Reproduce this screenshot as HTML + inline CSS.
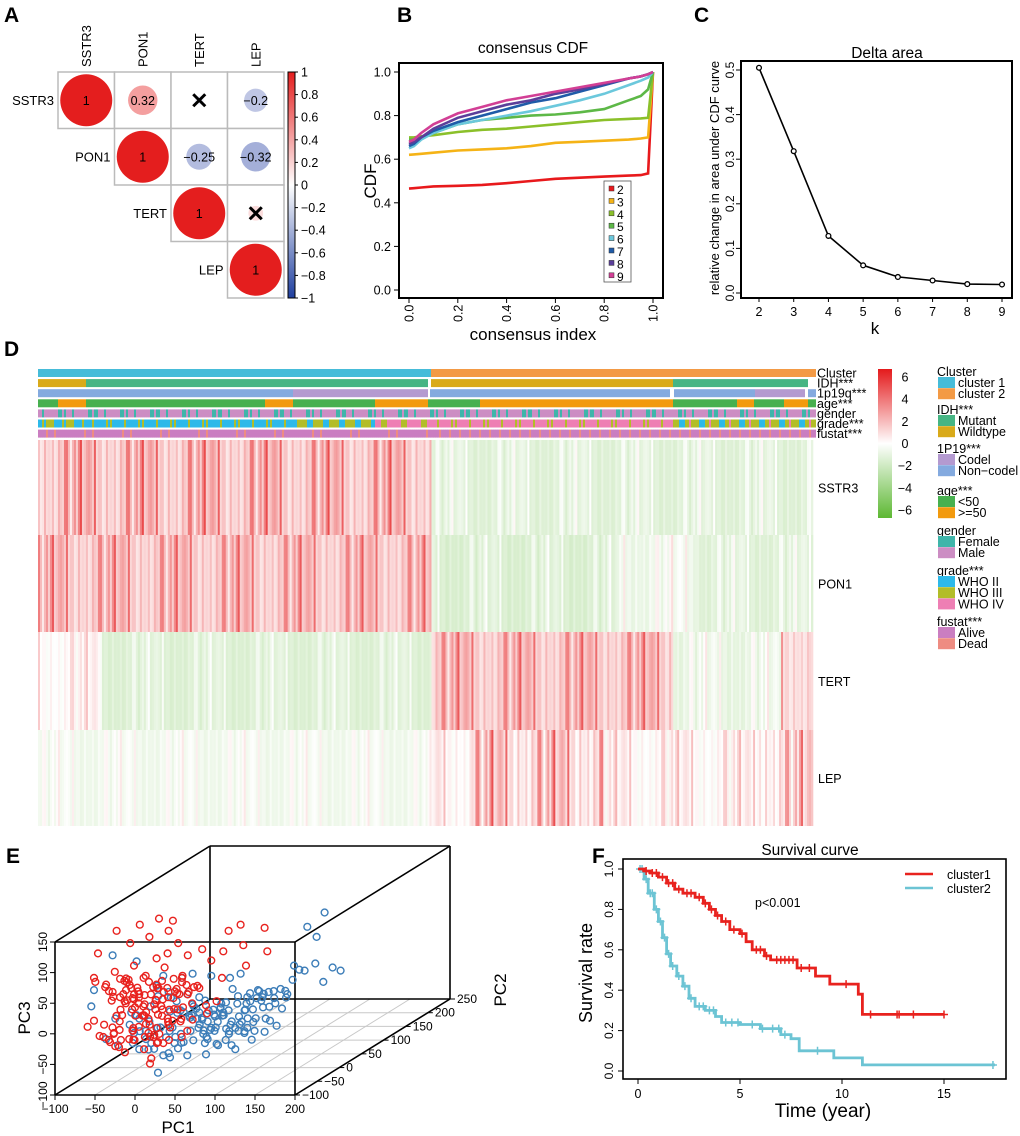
<!DOCTYPE html>
<html><head><meta charset="utf-8"><title>Figure</title>
<style>
html,body{margin:0;padding:0;background:#fff;}
svg{display:block;font-family:"Liberation Sans",Arial,sans-serif;}
</style></head>
<body>
<svg id="fig" width="1020" height="1136" viewBox="0 0 1020 1136" xmlns="http://www.w3.org/2000/svg"></svg>
<script>
// ---------- DATA ----------
// Panel A
const corrGenes = ["SSTR3","PON1","TERT","LEP"];
const corrVals = [[1,0.32,-0.03,-0.2],[0.32,1,-0.25,-0.32],[-0.03,-0.25,1,0.08],[-0.2,-0.32,0.08,1]];
const corrSig = [[1,1,0,1],[1,1,1,1],[0,1,1,0],[1,1,0,1]];
const corrTicks = [1,0.8,0.6,0.4,0.2,0,-0.2,-0.4,-0.6,-0.8,-1];
// Panel B
const cdfX = [0,0.02,0.05,0.1,0.2,0.3,0.4,0.5,0.6,0.7,0.8,0.9,0.95,0.98,1.0];
const cdfK = ["2","3","4","5","6","7","8","9"];
const cdfK2 = [.465,.467,.47,.475,.478,.482,.49,.50,.51,.515,.52,.525,.527,.535,1.0];
const cdfK3 = [.62,.622,.625,.63,.64,.645,.65,.66,.675,.68,.685,.69,.695,.70,1.0];
const cdfK4 = [.70,.70,.705,.71,.725,.735,.74,.75,.76,.77,.78,.785,.787,.79,1.0];
const cdfK5 = [.69,.69,.70,.72,.76,.78,.79,.80,.805,.815,.83,.87,.89,.92,1.0];
const cdfK6 = [.65,.66,.69,.72,.76,.78,.80,.82,.845,.87,.90,.94,.96,.975,1.0];
const cdfK7 = [.66,.67,.70,.73,.77,.80,.83,.86,.88,.91,.94,.97,.98,.99,1.0];
const cdfK8 = [.67,.68,.70,.74,.79,.82,.85,.87,.90,.92,.945,.97,.98,.99,1.0];
const cdfK9 = [.68,.69,.72,.76,.81,.84,.87,.89,.91,.93,.95,.97,.98,.99,1.0];
const cdfTicks = [0,0.2,0.4,0.6,0.8,1.0];
// Panel C
const deltaK = [2,3,4,5,6,7,8,9];
const deltaVals = [0.505,0.318,0.128,0.062,0.036,0.028,0.020,0.019];
const deltaTicks = [0,0.1,0.2,0.3,0.4,0.5];
// Panel D heatmap: segments [fromFrac,toFrac,mean,amp]
const hmGenes = ["SSTR3","PON1","TERT","LEP"];
const hmSSTR3 = [[0,0.507,1.3,0.9],[0.507,1,-1.1,0.35]];
const hmPON1 = [[0,0.507,1.3,0.8],[0.507,0.75,-1.3,0.35],[0.75,0.85,-0.6,0.4],[0.85,1,-1.1,0.35]];
const hmTERT = [[0,0.08,0.1,0.4],[0.08,0.507,-1.2,0.3],[0.507,0.82,1.3,0.8],[0.82,0.96,-0.8,0.4],[0.96,1,1.0,0.6]];
const hmLEP = [[0,0.507,-0.5,0.3],[0.507,0.56,0.2,0.5],[0.56,0.73,0.8,1.0],[0.73,0.93,0.1,0.5],[0.93,1,0.6,0.9]];
const hmJitter = [0.3,-0.5,1.8,0.1,-0.2,2.6,0.4,-0.8,0.9,0,3.2,-0.4,0.6,1.2,-0.6,0.2,2.1,-0.3,0.5,-0.9,1.5,0.8,-0.1,3.8,0.3,-0.7,0.7,1.0,-0.4,2.4,0];
const hmScaleTicks = [6,4,2,0,-2,-4,-6];
// annotation segments [fromX,toX,patternOfCodes]
const annCluster = [[38,431,"1"],[431,816,"2"]];
const annIDH = [[38,86,"W"],[86,428,"M"],[431,673,"W"],[673,808,"M"]];
const ann1p19q = [[38,293,"N"],[293,428,"C"],[430,670,"N"],[674,755,"N"],[755,805,"C"],[808,816,"N"]];
const annAge = [[38,58,"Y"],[58,86,"O"],[86,265,"Y"],[265,293,"O"],[293,375,"Y"],[375,428,"O"],[428,480,"Y"],[480,673,"O"],[673,737,"Y"],[737,754,"O"],[754,784,"Y"],[784,808,"O"],[808,816,"Y"]];
const annGender = [[38,816,"MMFMMMFMFMMMMFMMFMMMFMFMMFMMMMF"]];
const annGrade = [[38,86,"2332233232"],[86,293,"2222322223222232"],[293,375,"23323233"],[375,431,"4434434443"],[431,673,"4444344443444434"],[673,816,"3323423332"]];
const annFustat = [[38,431,"AAAAADAAAAAADAAAAAA"],[431,816,"ADDADAADDAADDAD"]];
// Panel E PCA points [pc1,pc2,pc3]
const pcaC1 = [[-105,0,40],[-100,30,10],[-98,-30,-20],[-95,0,-50],[-92,30,-80],[-90,-30,60],[-88,0,25],[-85,30,-5],[-83,-30,-35],[-80,0,-65],[-78,30,90],[-76,-30,45],[-74,0,15],[-72,30,-15],[-70,-30,-45],[-68,0,-75],[-66,30,120],[-64,-30,70],[-62,0,35],[-60,30,5],[-58,-30,-25],[-56,0,-55],[-54,30,100],[-52,-30,55],[-50,0,20],[-48,30,-10],[-46,-30,-40],[-44,0,-70],[-42,30,130],[-40,-30,80],[-38,0,40],[-36,30,10],[-34,-30,-20],[-32,0,-50],[-30,30,110],[-28,-30,60],[-26,0,30],[-24,30,0],[-22,-30,-30],[-20,0,-60],[-18,30,90],[-16,-30,45],[-14,0,15],[-12,30,-15],[-10,-30,-45],[-8,0,140],[-6,30,70],[-4,-30,25],[-2,0,-5],[0,30,-35],[2,-30,100],[4,0,50],[6,30,20],[8,-30,-10],[10,0,-40],[12,30,80],[14,-30,35],[16,0,5],[18,30,-25],[20,-30,60],[25,0,30],[30,30,-5],[35,-30,45],[40,0,75],[45,30,110],[50,-30,15],[55,0,90],[60,30,120],[70,-30,60],[80,0,100],[90,30,115],[100,-30,80],[110,0,90],[-95,30,110],[-85,-30,100],[-70,0,20],[-60,30,-10],[-50,-30,40],[-45,0,0],[-35,30,50],[-25,-30,-15],[-15,0,30],[-5,30,10],[-65,-30,-30],[-55,0,-15],[-75,30,0],[-40,-30,25],[-30,0,-5],[-20,30,15],[-10,-30,0],[0,0,20],[-48,30,-60],[-20,-30,-80],[-60,0,30],[-80,30,30],[-90,-30,-10],[-35,0,-85],[-65,0,10],[-45,30,65],[-25,0,-45],[-5,-30,55],
[-94,0,-30],[-90,10,5],[-86,-10,40],[-82,0,-45],[-79,10,-10],[-77,-10,20],[-73,0,-55],[-71,10,35],[-69,-10,-20],[-67,0,5],[-63,10,-40],[-61,-10,50],[-59,0,-5],[-57,10,20],[-53,-10,-35],[-51,0,5],[-49,10,-20],[-47,-10,35],[-43,0,-50],[-41,10,15],[-39,-10,-10],[-37,0,-30],[-33,10,25],[-31,-10,-45],[-29,0,10],[-27,10,-20],[-23,-10,40],[-21,0,-5],[-19,10,-35],[-17,-10,5],[-13,0,-55],[-11,10,20],[-9,-10,-15],[-7,0,45],[-3,10,-25],[-1,-10,0],[3,0,-50],[5,10,15],[7,-10,-20],[9,0,35],[-84,10,-20],[-66,-10,-10],[-58,0,-40],[-44,10,-25],[-36,-10,-5],[-28,0,-60],[-18,10,-10],[-6,-10,-30],[-74,0,45],[-62,10,15],[-52,-10,-50],[-42,0,50],[-34,10,-40],[-24,-10,15],[-14,0,-25],[-2,10,35],[-88,0,-55],[-78,-10,-30],[-56,10,10],[-46,0,-15]];
const pcaC2 = [[-110,0,0],[-100,30,70],[-90,-30,40],[-80,0,-20],[-70,30,60],[-60,-30,-50],[-50,0,-70],[-45,30,20],[-40,-30,-30],[-35,0,-60],[-30,30,10],[-25,-30,-40],[-20,0,-80],[-15,30,-20],[-10,-30,30],[-5,0,-50],[0,30,-10],[5,-30,-70],[10,0,20],[12,30,-35],[15,-30,-55],[18,0,0],[20,30,-20],[22,-30,-45],[25,0,15],[28,30,-30],[30,-30,-5],[32,0,-60],[35,30,-15],[38,-30,10],[40,0,-35],[42,30,-50],[45,-30,-5],[48,0,-25],[50,30,15],[52,-30,-40],[55,0,-10],[58,30,-30],[60,-30,0],[62,0,-45],[65,30,-20],[68,-30,10],[70,0,-35],[72,30,-5],[75,-30,20],[78,0,-25],[80,30,0],[82,-30,-50],[85,0,15],[88,30,-15],[90,-30,30],[92,0,-5],[95,30,10],[98,-30,-30],[100,0,25],[102,30,0],[105,-30,35],[108,0,-20],[110,30,15],[115,-30,40],[120,0,5],[125,30,30],[130,-30,-10],[135,0,20],[140,30,45],[145,-30,10],[150,0,60],[155,30,100],[160,0,130],[165,30,140],[170,0,70],[175,30,50],[180,0,40],[185,30,45],[160,-30,80],[-20,0,50],[0,30,40],[20,-30,60],[40,0,50],[60,30,40],[80,-30,60],[-60,0,-10],[-30,30,-90],[-10,-30,-95],[10,0,-80],[30,30,-75],[50,-30,-65],[70,0,-70],[90,30,-55],[-75,-30,-40],[-50,0,-20],[-20,30,-5],[5,-30,5],[25,0,-10],[45,30,-20],[65,-30,-50],[85,0,-35],[105,30,-45],[30,0,-45],[55,-30,-25],
[-62,0,-30],[-55,10,-45],[-48,-10,-10],[-42,0,-40],[-38,10,-55],[-32,-10,-20],[-27,0,-35],[-22,10,-55],[-18,-10,-30],[-12,0,-40],[-8,10,-15],[-3,-10,-30],[2,0,-45],[7,10,-20],[11,-10,-5],[14,0,-40],[17,10,-25],[21,-10,-10],[24,0,-35],[27,10,5],[31,-10,-25],[34,0,-50],[37,10,-10],[41,-10,-20],[44,0,-40],[47,10,0],[51,-10,-30],[54,0,-15],[57,10,-45],[61,-10,-10],[64,0,-30],[67,10,0],[71,-10,-20],[74,0,-40],[77,10,-10],[81,-10,-25],[84,0,5],[87,10,-30],[91,-10,-15],[94,0,-40],[97,10,5],[101,-10,-15],[104,0,15],[107,10,-5],[111,-10,25],[-58,0,-60],[-44,10,-75],[-26,-10,-65],[-6,0,-60],[12,10,-60],[36,-10,-35],[58,0,-55],[76,10,-45],[96,-10,-50],[118,0,25],[128,10,10],[138,-10,30],[-36,0,0],[-16,10,10],[8,-10,-55]];
const pc1Ticks = [-100,-50,0,50,100,150,200];
const pc2Ticks = [-100,-50,0,50,100,150,200,250];
const pc3Ticks = [-100,-50,0,50,100,150];
// Panel F survival [time, survival]
const survC1 = [[0,1],[0.3,0.99],[0.6,0.98],[1,0.96],[1.4,0.93],[1.8,0.90],[2.2,0.88],[2.8,0.86],[3.2,0.83],[3.5,0.80],[3.8,0.77],[4.1,0.74],[4.5,0.70],[5,0.68],[5.3,0.64],[5.6,0.60],[6.2,0.57],[6.5,0.55],[7.8,0.51],[8.7,0.47],[9.4,0.43],[10.8,0.38],[11,0.28],[15,0.28]];
const survC2 = [[0,1],[0.3,0.95],[0.5,0.88],[0.8,0.80],[1,0.74],[1.2,0.66],[1.4,0.58],[1.6,0.52],[1.9,0.47],[2.2,0.42],[2.5,0.36],[2.8,0.32],[3.3,0.30],[3.8,0.27],[4.1,0.24],[5,0.23],[6,0.21],[7,0.18],[7.5,0.16],[7.9,0.10],[9.6,0.065],[11,0.03],[17.5,0.03]];
const censC1 = [0.4,0.7,0.9,1.2,1.5,1.7,2.0,2.4,2.6,3.0,3.3,3.6,3.9,4.3,4.7,5.1,5.8,6.0,6.3,6.8,7.0,7.2,7.4,7.6,8.0,8.4,10.2,11.4,12.7,12.8,13.5,15];
const censC2 = [0.1,0.2,0.4,0.6,0.7,0.9,1.1,1.3,1.5,1.7,2.0,2.3,2.6,3.0,3.2,3.5,3.7,4.3,4.6,4.9,5.6,6.1,6.6,6.9,7.2,8.8,17.4];
const survXTicks = [0,5,10,15];
const survYTicks = [0,0.2,0.4,0.6,0.8,1.0];

// ---------- HELPERS ----------
const NS = "http://www.w3.org/2000/svg";
const svg = document.getElementById('fig');
function add(p, tag, attrs, name) {
  const e = document.createElementNS(NS, tag);
  for (const k in attrs) e.setAttribute(k, attrs[k]);
  
  
  p.appendChild(e);
  return e;
}
function txt(p, x, y, s, size, name, extra) {
  const a = {x:x, y:y, 'font-size':size, fill:'#000'};
  if (extra) for (const k in extra) a[k] = extra[k];
  const e = add(p, 'text', a, name);
  e.textContent = s;
  return e;
}
function mix(c1, c2, t) {
  return 'rgb(' + [0,1,2].map(i => Math.round(c1[i] + (c2[i]-c1[i])*t)).join(',') + ')';
}
const W = [255,255,255];

// ---------- PANEL LETTERS ----------
[["A",4,22],["B",397,22],["C",694,22],["D",4,356],["E",6,863],["F",592,863]].forEach(l => {
  txt(svg, l[1], l[2], l[0], 21, 'panel-label-' + l[0].toLowerCase(), {'font-weight':'bold'});
});

// ---------- PANEL A ----------
(function(){
  const g = add(svg, 'g', {}, 'correlation-plot');
  const x0 = 58, y0 = 72, s = 56.5;
  const red = [228,30,30], blue = [40,66,165];
  function cc(v){ return v >= 0 ? mix(W, red, Math.pow(v, 0.75)) : mix(W, blue, Math.pow(-v, 0.75)); }
  for (let i = 0; i < 4; i++) {
    for (let j = i; j < 4; j++) {
      const cx = x0 + j*s, cy = y0 + i*s;
      add(g, 'rect', {x:cx, y:cy, width:s, height:s, fill:'#fff', stroke:'#bbb', 'stroke-width':1.5}, 'corr-cell');
      const v = corrVals[i][j];
      const r = Math.sqrt(Math.abs(v)) * 26;
      add(g, 'circle', {cx:cx+s/2, cy:cy+s/2, r:r, fill:cc(v)}, 'corr-circle-' + corrGenes[i].toLowerCase() + '-' + corrGenes[j].toLowerCase());
      if (corrSig[i][j]) {
        const lab = v === 1 ? '1' : String(v).replace('-', '\u2212');
        txt(g, cx+s/2, cy+s/2+4.5, lab, 12.5, 'corr-value', {'text-anchor':'middle'});
      } else {
        const m = 6;
        add(g, 'path', {d:`M${cx+s/2-m},${cy+s/2-m}L${cx+s/2+m},${cy+s/2+m}M${cx+s/2+m},${cy+s/2-m}L${cx+s/2-m},${cy+s/2+m}`, stroke:'#000', 'stroke-width':3}, 'insignificant-mark');
      }
    }
    txt(g, x0 + i*s - 4, y0 + i*s + s/2 + 4.5, corrGenes[i], 13, 'row-label-' + corrGenes[i].toLowerCase(), {'text-anchor':'end'});
    txt(g, 0, 0, corrGenes[i], 13, 'col-label-' + corrGenes[i].toLowerCase(), {transform:`translate(${x0+i*s+s/2+4.5},67) rotate(-90)`});
  }
  const defs = add(svg, 'defs', {}, 'defs');
  const lg = add(defs, 'linearGradient', {id:'corrGrad', x1:0, y1:0, x2:0, y2:1}, 'corr-gradient');
  add(lg, 'stop', {offset:'0', 'stop-color':'#E41E1E'}, 'stop');
  add(lg, 'stop', {offset:'0.5', 'stop-color':'#ffffff'}, 'stop');
  add(lg, 'stop', {offset:'1', 'stop-color':'#1F3F9F'}, 'stop');
  add(g, 'rect', {x:288, y:72, width:7, height:226, fill:'url(#corrGrad)', stroke:'#000', 'stroke-width':1}, 'corr-colorbar');
  corrTicks.forEach(t => {
    const y = 72 + (1 - t)/2 * 226;
    add(g, 'line', {x1:295, x2:298, y1:y, y2:y, stroke:'#000'}, 'colorbar-tick');
    txt(g, 301, y+4.5, String(t).replace('-', '\u2212'), 12.5, 'colorbar-tick-label');
  });
})();

// ---------- PANEL B ----------
(function(){
  const g = add(svg, 'g', {}, 'consensus-cdf-plot');
  const X = v => 409 + v*244, Y = v => 290 - v*218;
  txt(g, 533, 53, 'consensus CDF', 15.5, 'chart-title', {'text-anchor':'middle'});
  const series = [cdfK2,cdfK3,cdfK4,cdfK5,cdfK6,cdfK7,cdfK8,cdfK9];
  const cols = ['#E8191C','#F5B316','#8BC02A','#5DB847','#6BC8DC','#1F5BA8','#5B3F9A','#D23F95'];
  series.forEach((s, k) => {
    const d = s.map((v, i) => (i ? 'L' : 'M') + X(cdfX[i]).toFixed(1) + ',' + Y(v).toFixed(1)).join('');
    add(g, 'path', {d:d, fill:'none', stroke:cols[k], 'stroke-width':2.6}, 'cdf-line-k' + cdfK[k]);
  });
  add(g, 'rect', {x:399, y:63, width:264, height:235, fill:'none', stroke:'#000', 'stroke-width':2}, 'plot-frame');
  cdfTicks.forEach(t => {
    add(g, 'line', {x1:394, x2:399, y1:Y(t), y2:Y(t), stroke:'#000'}, 'y-tick');
    txt(g, 391, Y(t)+4.5, t.toFixed(1), 12.5, 'y-tick-label', {'text-anchor':'end'});
    add(g, 'line', {x1:X(t), x2:X(t), y1:298, y2:303, stroke:'#000'}, 'x-tick');
    txt(g, 0, 0, t.toFixed(1), 12.5, 'x-tick-label', {transform:`translate(${X(t)+4.5},322) rotate(-90)`});
  });
  txt(g, 0, 0, 'CDF', 17, 'y-axis-title', {transform:'translate(376,181) rotate(-90)', 'text-anchor':'middle'});
  txt(g, 533, 340, 'consensus index', 17, 'x-axis-title', {'text-anchor':'middle'});
  add(g, 'rect', {x:604, y:181, width:27, height:101, fill:'#fff', stroke:'#555', 'stroke-width':0.8}, 'legend-box');
  cdfK.forEach((k, i) => {
    const y = 190 + i*12.4;
    add(g, 'rect', {x:609, y:y-4, width:5, height:5, fill:cols[i], stroke:'#333', 'stroke-width':0.5}, 'legend-swatch-k' + k);
    txt(g, 617, y+4, k, 12, 'legend-label-k' + k);
  });
})();

// ---------- PANEL C ----------
(function(){
  const g = add(svg, 'g', {}, 'delta-area-plot');
  const X = k => 759 + (k-2)*(243/7), Y = v => 293 - v*446;
  txt(g, 887, 58, 'Delta area', 15.5, 'chart-title', {'text-anchor':'middle'});
  add(g, 'path', {d:deltaVals.map((v,i)=>(i?'L':'M')+X(deltaK[i]).toFixed(1)+','+Y(v).toFixed(1)).join(''), fill:'none', stroke:'#000', 'stroke-width':1.6}, 'delta-line');
  deltaVals.forEach((v, i) => {
    add(g, 'circle', {cx:X(deltaK[i]), cy:Y(v), r:2.4, fill:'#fff', stroke:'#000', 'stroke-width':1.3}, 'delta-point-k' + deltaK[i]);
  });
  add(g, 'rect', {x:741, y:61, width:271, height:237, fill:'none', stroke:'#000', 'stroke-width':2}, 'plot-frame');
  deltaTicks.forEach(t => {
    add(g, 'line', {x1:736, x2:741, y1:Y(t), y2:Y(t), stroke:'#000'}, 'y-tick');
    txt(g, 0, 0, t.toFixed(1), 12, 'y-tick-label', {transform:`translate(${737-3},${Y(t)}) rotate(-90)`, 'text-anchor':'middle'});
  });
  deltaK.forEach(k => {
    add(g, 'line', {x1:X(k), x2:X(k), y1:298, y2:302, stroke:'#000'}, 'x-tick');
    txt(g, X(k), 316, String(k), 12.5, 'x-tick-label', {'text-anchor':'middle'});
  });
  txt(g, 0, 0, 'relative change in area under CDF curve', 13, 'y-axis-title', {transform:'translate(719,178) rotate(-90)', 'text-anchor':'middle'});
  txt(g, 875, 334, 'k', 17, 'x-axis-title', {'text-anchor':'middle'});
})();

// ---------- PANEL D ----------
(function(){
  const g = add(svg, 'g', {}, 'heatmap');
  const x0 = 38, x1 = 813, nc = 388, cw = (x1 - x0)/nc;
  const redC = [228,26,28], greenC = [93,184,51];
  function hc(v){ const t = Math.min(Math.abs(v)/6, 1); return v >= 0 ? mix(W, redC, t) : mix(W, greenC, t); }
  const rows = [hmSSTR3, hmPON1, hmTERT, hmLEP];
  const rowY = [440, 535, 632, 730, 826];
  rows.forEach((segs, r) => {
    for (let c = 0; c < nc; c++) {
      const f = (c + 0.5)/nc;
      const s = segs.find(q => f >= q[0] && f < q[1]) || segs[segs.length-1];
      const v = s[2] + s[3]*hmJitter[(c*7 + r*5) % hmJitter.length];
      add(g, 'rect', {x:(x0 + c*cw).toFixed(2), y:rowY[r], width:(cw+0.3).toFixed(2), height:rowY[r+1]-rowY[r], fill:hc(v)}, 'heatmap-cell');
    }
    txt(g, 818, (rowY[r]+rowY[r+1])/2 + 5, hmGenes[r], 12.5, 'row-label-' + hmGenes[r].toLowerCase());
  });
  const annRows = [annCluster, annIDH, ann1p19q, annAge, annGender, annGrade, annFustat];
  const annNames = ['Cluster','IDH***','1p19q***','age***','gender','grade***','fustat***'];
  const annCols = [
    {'1':'#46BCD9','2':'#F39A45'},
    {'M':'#46B584','W':'#D9AA1A'},
    {'C':'#B49AD0','N':'#84AADF'},
    {'Y':'#47B04F','O':'#F29A0E'},
    {'F':'#3FB5AA','M':'#CC8DC3'},
    {'2':'#2DB9E9','3':'#B2BD28','4':'#EE7FB4'},
    {'A':'#CA7EC1','D':'#EE8C82'}
  ];
  annRows.forEach((segs, r) => {
    const y = 369 + r*10.1;
    segs.forEach(s => {
      if (s[2].length === 1) {
        add(g, 'rect', {x:s[0], y:y, width:s[1]-s[0], height:8, fill:annCols[r][s[2]]}, 'annotation-' + annNames[r].replace(/\*/g,'').toLowerCase());
      } else {
        for (let x = s[0], c = 0; x < s[1]; x += 2, c++) {
          const code = s[2][(c*3) % s[2].length];
          add(g, 'rect', {x:x, y:y, width:Math.min(2.3, s[1]-x), height:8, fill:annCols[r][code]}, 'annotation-' + annNames[r].replace(/\*/g,'').toLowerCase());
        }
      }
    });
    txt(g, 817, y + 8.5, annNames[r], 12.5, 'annotation-label');
  });
  const defs = add(svg, 'defs', {}, 'defs');
  const lg = add(defs, 'linearGradient', {id:'hmGrad', x1:0, y1:0, x2:0, y2:1}, 'heatmap-gradient');
  add(lg, 'stop', {offset:'0', 'stop-color':'#E41A1C'}, 'stop');
  add(lg, 'stop', {offset:'0.5', 'stop-color':'#ffffff'}, 'stop');
  add(lg, 'stop', {offset:'1', 'stop-color':'#5DB833'}, 'stop');
  add(g, 'rect', {x:878, y:369, width:14, height:149, fill:'url(#hmGrad)'}, 'heatmap-colorbar');
  hmScaleTicks.forEach(t => {
    const y = 443 - t*11.1;
    txt(g, 905, y+5, String(t).replace('-', '\u2212'), 12.5, 'colorbar-tick-label', {'text-anchor':'middle'});
  });
  const leg = [
    ['Cluster',371,[['cluster 1','#46BCD9'],['cluster 2','#F39A45']]],
    ['IDH***',409,[['Mutant','#46B584'],['Wildtype','#D9AA1A']]],
    ['1P19***',448,[['Codel','#B49AD0'],['Non\u2212codel','#84AADF']]],
    ['age***',490,[['<50','#47B04F'],['>=50','#F29A0E']]],
    ['gender',530,[['Female','#3FB5AA'],['Male','#CC8DC3']]],
    ['grade***',570,[['WHO  II','#2DB9E9'],['WHO III','#B2BD28'],['WHO IV','#EE7FB4']]],
    ['fustat***',621,[['Alive','#CA7EC1'],['Dead','#EE8C82']]]
  ];
  leg.forEach(grp => {
    txt(g, 937, grp[1]+5, grp[0], 12.5, 'legend-title');
    grp[2].forEach((it, i) => {
      const y = grp[1] + 6 + i*11.2;
      add(g, 'rect', {x:938, y:y, width:17, height:11, fill:it[1]}, 'legend-swatch');
      txt(g, 958, y+10, it[0], 12.5, 'legend-label');
    });
  });
})();

// ---------- PANEL E ----------
(function(){
  const g = add(svg, 'g', {}, 'pca-3d-plot');
  const DX = 155, DY = -96;
  const bx = v => 55 + (v+100)*0.8, by = v => 1095 - (v+100)*0.612, dep = v => (v+100)/350;
  const P = (a, b, c) => [bx(a) + dep(b)*DX, by(c) + dep(b)*DY];
  pc2Ticks.forEach(t => {
    const d = dep(t);
    if (d > 0 && d < 1) add(g, 'line', {x1:55+d*DX, y1:1095+d*DY, x2:295+d*DX, y2:1095+d*DY, stroke:'#c8c8c8'}, 'floor-grid-line');
  });
  pc1Ticks.forEach(t => {
    if (t > -100 && t < 200) add(g, 'line', {x1:bx(t), y1:1095, x2:bx(t)+DX, y2:1095+DY, stroke:'#c8c8c8'}, 'floor-grid-line');
  });
  const edges = [[55,942,295,942],[55,1095,295,1095],[55,942,55,1095],[295,942,295,1095],
    [210,846,450,846],[210,999,450,999],[210,846,210,999],[450,846,450,999],
    [55,942,210,846],[295,942,450,846],[295,1095,450,999],[55,1095,210,999]];
  edges.forEach(e => add(g, 'line', {x1:e[0], y1:e[1], x2:e[2], y2:e[3], stroke:'#000', 'stroke-width':1.6}, 'box-edge'));
  pcaC2.forEach(p => { const q = P(p[0],p[1],p[2]); add(g, 'circle', {cx:q[0].toFixed(1), cy:q[1].toFixed(1), r:3.4, fill:'none', stroke:'#3C7DB8', 'stroke-width':1.4}, 'point-cluster2'); });
  pcaC1.forEach(p => { const q = P(p[0],p[1],p[2]); add(g, 'circle', {cx:q[0].toFixed(1), cy:q[1].toFixed(1), r:3.4, fill:'none', stroke:'#E8221E', 'stroke-width':1.4}, 'point-cluster1'); });
  pc1Ticks.forEach(t => {
    add(g, 'line', {x1:bx(t), x2:bx(t), y1:1095, y2:1100, stroke:'#000'}, 'x-tick');
    txt(g, bx(t), 1113, String(t).replace('-', '\u2212'), 12, 'pc1-tick-label', {'text-anchor':'middle'});
  });
  pc3Ticks.forEach(t => {
    add(g, 'line', {x1:50, x2:55, y1:by(t), y2:by(t), stroke:'#000'}, 'y-tick');
    txt(g, 0, 0, String(t).replace('-', '\u2212'), 12, 'pc3-tick-label', {transform:`translate(${47},${by(t)}) rotate(-90)`, 'text-anchor':'middle'});
  });
  pc2Ticks.forEach(t => {
    const d = dep(t);
    add(g, 'line', {x1:295+d*DX, y1:1095+d*DY, x2:300+d*DX, y2:1095+d*DY, stroke:'#000'}, 'z-tick');
    txt(g, 302+d*DX, 1099+d*DY, String(t).replace('-', '\u2212'), 12, 'pc2-tick-label');
  });
  txt(g, 178, 1133, 'PC1', 17, 'pc1-axis-title', {'text-anchor':'middle'});
  txt(g, 0, 0, 'PC3', 17, 'pc3-axis-title', {transform:'translate(30,1018) rotate(-90)', 'text-anchor':'middle'});
  txt(g, 0, 0, 'PC2', 17, 'pc2-axis-title', {transform:'translate(506,990) rotate(-90)', 'text-anchor':'middle'});
})();

// ---------- PANEL F ----------
(function(){
  const g = add(svg, 'g', {}, 'survival-plot');
  const X = t => 638 + t*20.4, Y = v => 1071 - v*202;
  txt(g, 810, 855, 'Survival curve', 15.5, 'chart-title', {'text-anchor':'middle'});
  function stepPath(pts){
    let d = 'M' + X(pts[0][0]) + ',' + Y(pts[0][1]);
    for (let i = 1; i < pts.length; i++) {
      d += 'L' + X(pts[i][0]).toFixed(1) + ',' + Y(pts[i-1][1]).toFixed(1) + 'L' + X(pts[i][0]).toFixed(1) + ',' + Y(pts[i][1]).toFixed(1);
    }
    return d;
  }
  function survAt(pts, t){ let s = 1; for (const p of pts) { if (p[0] <= t) s = p[1]; } return s; }
  function cens(pts, ts, col, name){
    ts.forEach(t => {
      const x = X(t), y = Y(survAt(pts, t));
      add(g, 'path', {d:`M${x-4},${y}L${x+4},${y}M${x},${y-4}L${x},${y+4}`, stroke:col, 'stroke-width':1.5}, name);
    });
  }
  add(g, 'path', {d:stepPath(survC2), fill:'none', stroke:'#6CC4D4', 'stroke-width':2.8}, 'survival-curve-cluster2');
  cens(survC2, censC2, '#6CC4D4', 'censor-mark-cluster2');
  add(g, 'path', {d:stepPath(survC1), fill:'none', stroke:'#E8221E', 'stroke-width':2.8}, 'survival-curve-cluster1');
  cens(survC1, censC1, '#E8221E', 'censor-mark-cluster1');
  add(g, 'rect', {x:623, y:859, width:383, height:220, fill:'none', stroke:'#000', 'stroke-width':1.6}, 'plot-frame');
  survYTicks.forEach(t => {
    add(g, 'line', {x1:618, x2:623, y1:Y(t), y2:Y(t), stroke:'#000'}, 'y-tick');
    txt(g, 0, 0, t.toFixed(1), 12, 'y-tick-label', {transform:`translate(${613},${Y(t)}) rotate(-90)`, 'text-anchor':'middle'});
  });
  survXTicks.forEach(t => {
    add(g, 'line', {x1:X(t), x2:X(t), y1:1079, y2:1084, stroke:'#000'}, 'x-tick');
    txt(g, X(t), 1098, String(t), 12.5, 'x-tick-label', {'text-anchor':'middle'});
  });
  txt(g, 0, 0, 'Survival rate', 18, 'y-axis-title', {transform:'translate(592,973) rotate(-90)', 'text-anchor':'middle'});
  txt(g, 823, 1117, 'Time (year)', 19, 'x-axis-title', {'text-anchor':'middle'});
  txt(g, 755, 907, 'p<0.001', 12.5, 'p-value-label');
  add(g, 'line', {x1:905, x2:933, y1:874, y2:874, stroke:'#E8221E', 'stroke-width':2.6}, 'legend-line-cluster1');
  txt(g, 947, 879, 'cluster1', 12.5, 'legend-label-cluster1');
  add(g, 'line', {x1:905, x2:933, y1:888, y2:888, stroke:'#6CC4D4', 'stroke-width':2.6}, 'legend-line-cluster2');
  txt(g, 947, 893, 'cluster2', 12.5, 'legend-label-cluster2');
})();
</script>
</body></html>
